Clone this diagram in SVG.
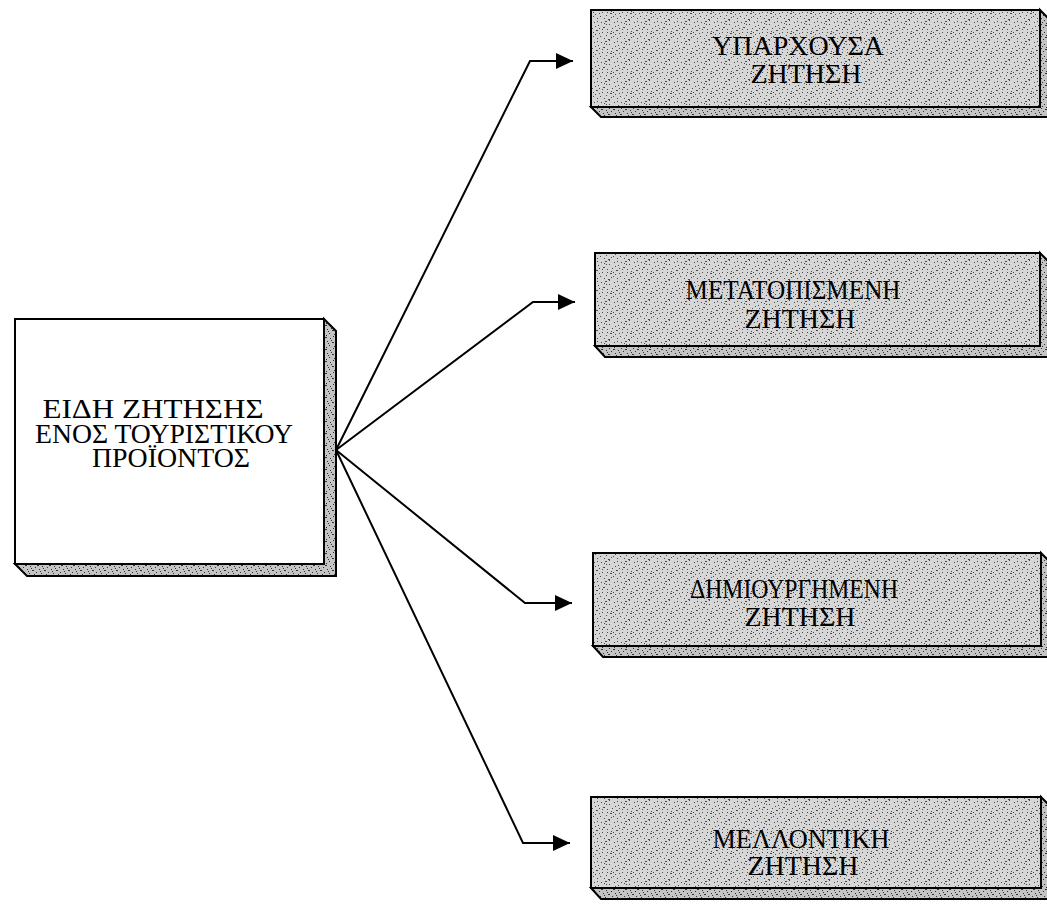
<svg xmlns="http://www.w3.org/2000/svg" width="1047" height="906" viewBox="0 0 1047 906">
<style>
.face{fill:url(#speck);stroke:#000;stroke-width:2}
.plain{fill:#fff;stroke:#000;stroke-width:2}
.bevel{fill:url(#speck2);stroke:#000;stroke-width:2;stroke-linejoin:miter}
.lbl{font-family:"Liberation Serif","Times New Roman",serif;font-size:28px;fill:#000;text-anchor:middle}
.big{font-size:27px}
.conn{fill:none;stroke:#000;stroke-width:2}
</style>
<defs>
<pattern id="speck" width="20" height="20" patternUnits="userSpaceOnUse">
<rect width="20" height="20" fill="#d6d6d6"/>
<path fill="#4a4a4a" d="M1 2h1v1h-1zM5 1h2v1h-2zM9 4h1v1h-1zM14 2h1v1h-1zM18 5h1v1h-1zM3 7h2v1h-2zM7 9h1v1h-1zM12 8h1v1h-1zM16 10h2v1h-2zM19 13h1v1h-1zM2 12h1v1h-1zM6 15h1v1h-1zM10 13h2v1h-2zM13 16h1v1h-1zM17 18h1v1h-1zM4 18h1v1h-1zM8 19h2v1h-2zM11 11h1v1h-1zM15 6h1v1h-1zM0 16h1v1h-1zM9 0h1v1h-1zM13 12h1v1h-1zM6 4h1v1h-1zM17 1h1v1h-1zM2 9h1v1h-1zM19 8h1v1h-1zM11 17h1v1h-1zM15 14h1v1h-1zM7 12h1v1h-1zM4 3h1v1h-1z"/>
</pattern>
<pattern id="speck2" width="12" height="12" patternUnits="userSpaceOnUse">
<rect width="12" height="12" fill="#c4c4c4"/>
<path fill="#333" d="M1 1h2v1h-2zM6 2h1v1h-1zM9 0h1v1h-1zM3 5h1v1h-1zM8 6h2v1h-2zM0 8h1v1h-1zM5 9h1v1h-1zM10 10h1v1h-1zM2 11h1v1h-1zM7 4h1v1h-1zM11 3h1v1h-1zM4 7h1v1h-1z"/>
</pattern>
<marker id="arr" markerUnits="userSpaceOnUse" markerWidth="18" markerHeight="16" refX="17" refY="8" orient="auto">
<path d="M0 0L17 8L0 16z" fill="#000"/>
</marker>
</defs>

<g id="connectors">
<path class="conn" d="M336 450L530 61H573" marker-end="url(#arr)"/>
<path class="conn" d="M336 450L533 302H575" marker-end="url(#arr)"/>
<path class="conn" d="M336 450L525 603H572" marker-end="url(#arr)"/>
<path class="conn" d="M336 450L523 843H570" marker-end="url(#arr)"/>
</g>

<g id="source">
<path class="bevel" d="M324 319L336 331V576H27L15 564H324z"/>
<rect class="plain" x="15" y="319" width="309" height="245"/>
<text class="lbl big"><tspan x="153" y="418" textLength="221" lengthAdjust="spacingAndGlyphs">ΕΙΔΗ ΖΗΤΗΣΗΣ</tspan><tspan x="164" y="443" textLength="258" lengthAdjust="spacingAndGlyphs">ΕΝΟΣ ΤΟΥΡΙΣΤΙΚΟΥ</tspan><tspan x="171" y="467" textLength="158" lengthAdjust="spacingAndGlyphs">ΠΡΟΪΟΝΤΟΣ</tspan></text>
</g>

<g id="existing">
<path class="bevel" d="M1040 10L1050 20V117H601L591 107H1040z"/>
<rect class="face" x="591" y="10" width="449" height="97"/>
<text class="lbl"><tspan x="798" y="55">ΥΠΑΡΧΟΥΣΑ</tspan><tspan x="806" y="83">ΖΗΤΗΣΗ</tspan></text>
</g>

<g id="relocated">
<path class="bevel" d="M1040 253L1050 263V357H605L595 346H1040z"/>
<rect class="face" x="595" y="253" width="445" height="93"/>
<text class="lbl"><tspan x="793" y="299" textLength="215" lengthAdjust="spacingAndGlyphs">ΜΕΤΑΤΟΠΙΣΜΕΝΗ</tspan><tspan x="800" y="328">ΖΗΤΗΣΗ</tspan></text>
</g>

<g id="created">
<path class="bevel" d="M1041 553L1051 563V657H603L593 646H1041z"/>
<rect class="face" x="593" y="553" width="448" height="93"/>
<text class="lbl"><tspan x="794" y="598" textLength="208" lengthAdjust="spacingAndGlyphs">ΔΗΜΙΟΥΡΓΗΜΕΝΗ</tspan><tspan x="800" y="626">ΖΗΤΗΣΗ</tspan></text>
</g>

<g id="future">
<path class="bevel" d="M1041 797L1051 807V899H601L591 888H1041z"/>
<rect class="face" x="591" y="797" width="450" height="91"/>
<text class="lbl"><tspan x="801" y="848" textLength="177" lengthAdjust="spacingAndGlyphs">ΜΕΛΛΟΝΤΙΚΗ</tspan><tspan x="803" y="875">ΖΗΤΗΣΗ</tspan></text>
</g>
</svg>
